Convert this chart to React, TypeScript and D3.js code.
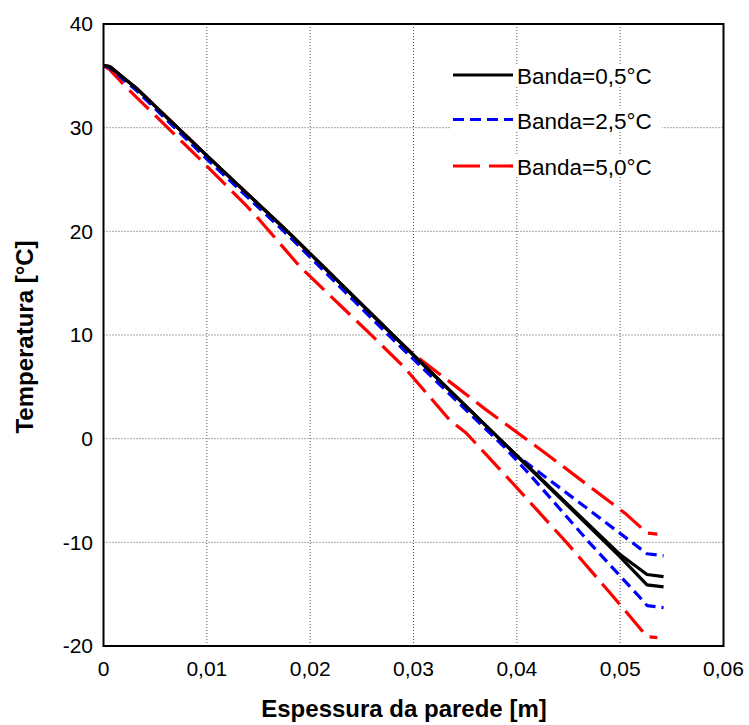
import React from "react";
import * as d3 from "d3";

// ---- data ----
const xTicks = [0, 0.01, 0.02, 0.03, 0.04, 0.05, 0.06];
const xTickLabels = ["0", "0,01", "0,02", "0,03", "0,04", "0,05", "0,06"];
const yTicks = [-20, -10, 0, 10, 20, 30, 40];
const yTickLabels = ["-20", "-10", "0", "10", "20", "30", "40"];

const seriesNames = ["Banda=0,5°C", "Banda=2,5°C", "Banda=5,0°C"];

const black1X = [0, 0.0006, 0.0033, 0.01, 0.0178, 0.028, 0.0383, 0.0499, 0.0526, 0.0542];
const black1Y = [36, 35.9, 33.7, 27.3, 20, 10, 0, -11.1, -13.1, -13.3];
const black2X = [0, 0.0006, 0.0033, 0.01, 0.0178, 0.028, 0.0383, 0.0499, 0.0526, 0.0542];
const black2Y = [36, 35.9, 33.7, 27.3, 20, 10, 0, -11.3, -14.1, -14.3];

const blue1X = [0, 0.0006, 0.0033, 0.01, 0.0178, 0.028, 0.0385, 0.0461, 0.0526, 0.0542];
const blue1Y = [36, 35.8, 33.5, 27.0, 19.7, 9.6, -0.5, -6.2, -11.1, -11.3];
const blue2X = [0, 0.0006, 0.0033, 0.01, 0.0178, 0.028, 0.0385, 0.0412, 0.047, 0.0519, 0.0526, 0.0542];
const blue2Y = [36, 35.8, 33.5, 27.0, 19.7, 9.6, -0.5, -3.4, -10.0, -15.3, -16.1, -16.3];

const red1X = [0, 0.0006, 0.0033, 0.01, 0.0178, 0.0285, 0.0297, 0.037, 0.0429, 0.0506, 0.0526, 0.0536];
const red1Y = [36, 35.9, 33.7, 27.3, 20, 9.5, 8.4, 2.8, -1.5, -7.3, -9.1, -9.2];
const red2X = [0, 0.0006, 0.0022, 0.0096, 0.0138, 0.0151, 0.019, 0.0257, 0.029, 0.0335, 0.0351, 0.0396, 0.0448, 0.0493, 0.0526, 0.0536];
const red2Y = [36, 35.6, 33.9, 26.7, 22.5, 21.1, 16.6, 10.2, 7.0, 1.8, 0.55, -4.3, -10.0, -15.2, -19.1, -19.2];

// ---- layout ----
const W = 749, H = 725;
const L = 103.5, R = 723.5, T = 24, B = 646;
const FONT = "'Liberation Sans', Arial, sans-serif";

const styles = [
  { color: "#000000", dash: "none" },
  { color: "#0000ff", dash: "11,6" },
  { color: "#ff0000", dash: "27,9" },
];

export default function App() {
  const x = d3.scaleLinear().domain([0, 0.06]).range([L, R]);
  const y = d3.scaleLinear().domain([-20, 40]).range([B, T]);
  const line = d3.line<[number, number]>().x(d => x(d[0])).y(d => y(d[1]));
  const mk = (xs: number[], ys: number[]) => line(xs.map((v, i) => [v, ys[i]] as [number, number])) || "";

  const curves = [
    { s: 2, d: mk(red2X, red2Y) },
    { s: 2, d: mk(red1X, red1Y) },
    { s: 1, d: mk(blue2X, blue2Y) },
    { s: 1, d: mk(blue1X, blue1Y) },
    { s: 0, d: mk(black2X, black2Y) },
    { s: 0, d: mk(black1X, black1Y) },
  ];

  const legY = [75, 119.5, 166];

  return (
    <svg width={W} height={H} style={{ position: "absolute", left: 0, top: 0, background: "#fff" }} fontFamily={FONT}>
      <rect x={0} y={0} width={W} height={H} fill="#fff" />
      {/* horizontal grid */}
      {yTicks.slice(1, -1).map(t => (
        <line key={"h" + t} x1={L} x2={R} y1={y(t)} y2={y(t)} stroke="#555" strokeWidth={1} strokeDasharray="1,2" />
      ))}
      {/* legend background */}
      <rect x={450} y={56} width={212} height={128} fill="#fff" />
      {/* vertical grid */}
      {xTicks.slice(1, -1).map(t => (
        <line key={"v" + t} x1={x(t)} x2={x(t)} y1={T} y2={B} stroke="#555" strokeWidth={1} strokeDasharray="1,2" />
      ))}
      {/* curves */}
      <g clipPath="url(#clip)">
        {curves.map((c, i) => (
          <path key={i} d={c.d} fill="none" stroke={styles[c.s].color} strokeWidth={3.2}
            strokeDasharray={styles[c.s].dash} strokeLinejoin="round" />
        ))}
      </g>
      <defs>
        <clipPath id="clip"><rect x={L} y={T - 2} width={R - L} height={B - T + 4} /></clipPath>
      </defs>
      {/* frame */}
      <rect x={L} y={T} width={R - L} height={B - T} fill="none" stroke="#000" strokeWidth={2} />
      {/* y tick labels */}
      {yTicks.map((t, i) => (
        <text key={"yl" + t} x={93} y={y(t)} dy="0.35em" textAnchor="end" fontSize={21} fill="#000">{yTickLabels[i]}</text>
      ))}
      {/* x tick labels */}
      {xTicks.map((t, i) => (
        <text key={"xl" + t} x={x(t)} y={676} textAnchor="middle" fontSize={21} fill="#000">{xTickLabels[i]}</text>
      ))}
      {/* axis titles */}
      <text x={404} y={717} textAnchor="middle" fontSize={24} fontWeight="bold" fill="#000">Espessura da parede [m]</text>
      <text transform={`translate(33,337) rotate(-90)`} textAnchor="middle" fontSize={24} fontWeight="bold" fill="#000">Temperatura [°C]</text>
      {/* legend */}
      {seriesNames.map((n, i) => (
        <g key={n}>
          <rect x={516} y={legY[i] - 11} width={144} height={22} fill="#fff" />
          <line x1={453} x2={513} y1={legY[i]} y2={legY[i]} stroke={styles[i].color} strokeWidth={3.2} strokeDasharray={styles[i].dash} />
          <text x={517} y={legY[i] + 9} fontSize={22.5} fill="#000">{n}</text>
        </g>
      ))}
    </svg>
  );
}
